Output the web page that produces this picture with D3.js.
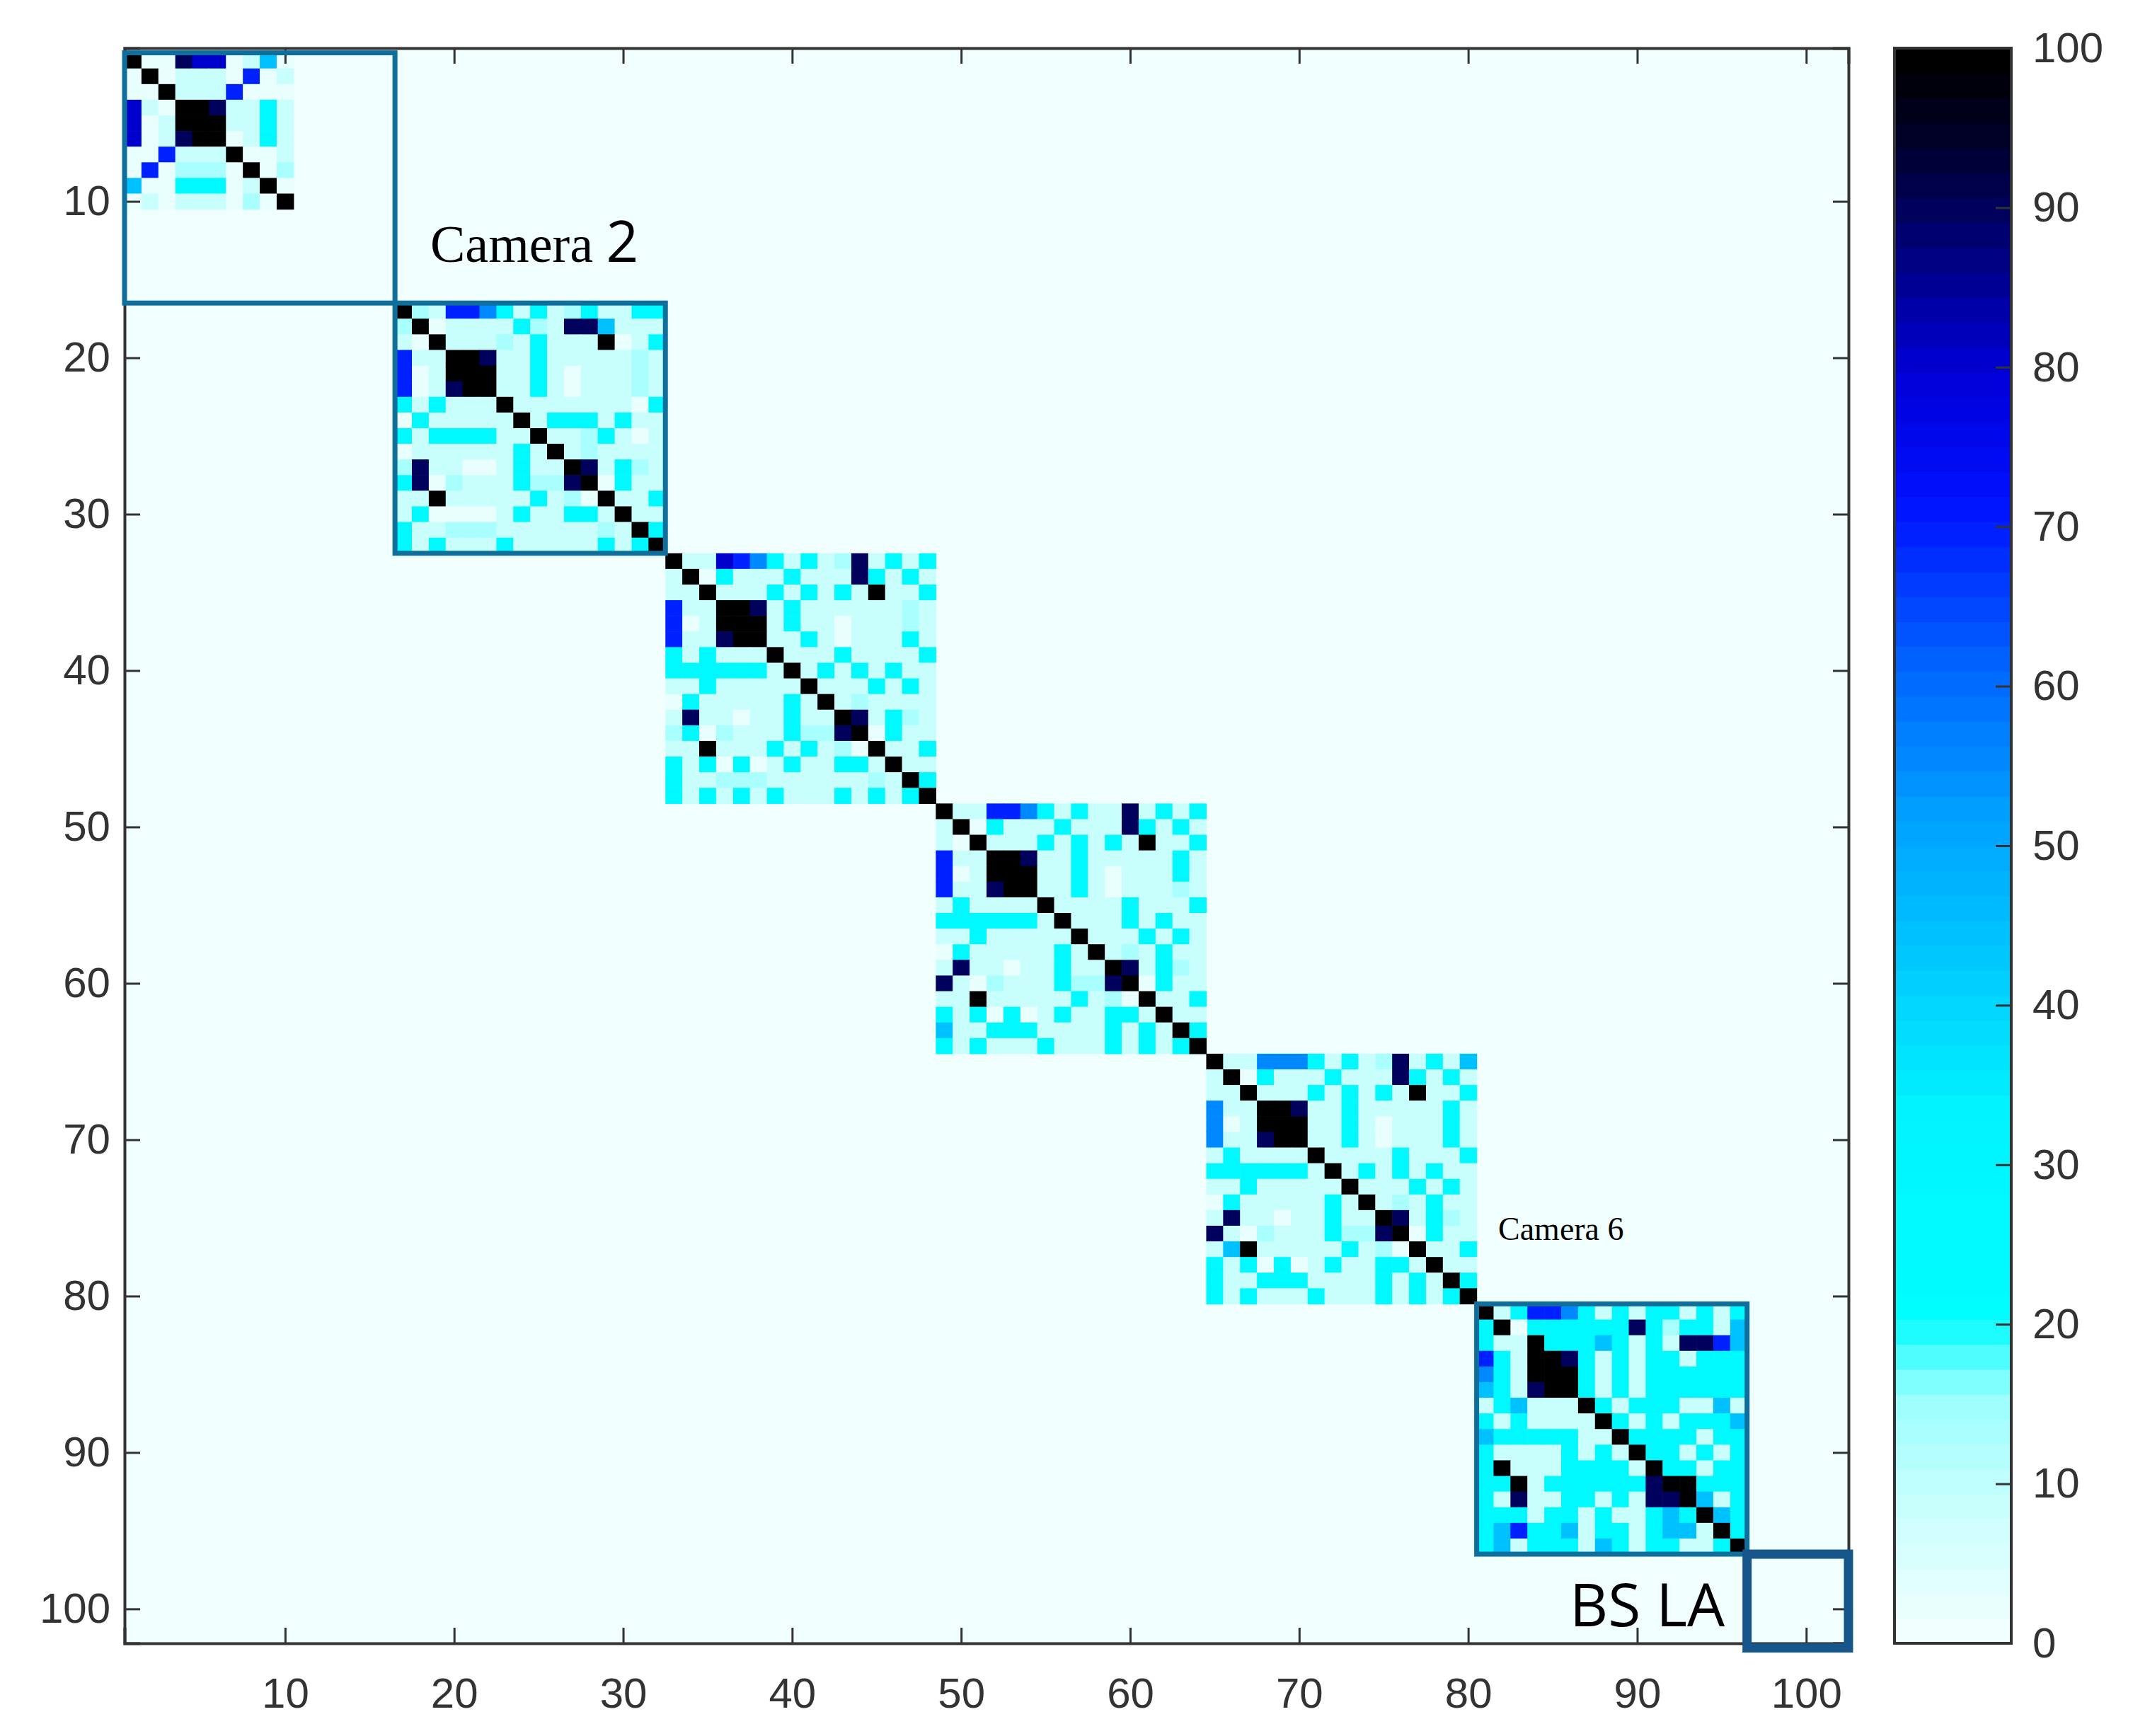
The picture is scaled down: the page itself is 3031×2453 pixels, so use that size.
<!DOCTYPE html>
<html>
<head>
<meta charset="utf-8">
<script src="https://cdn.jsdelivr.net/npm/d3@7"></script>
<style>
  body { margin: 0; background: #fff; }
  text { font-family: "Liberation Sans", Arial, sans-serif; }
</style>
</head>
<body>
<script>
// level digit -> similarity value (0..100)
const levelValues = [3, 8, 14, 25, 45, 55, 70, 80, 90, 100];
const backgroundValue = 0;
const matrixSize = 102;

// block start index (1-based) for each camera
const blockStarts = [1, 17, 33, 49, 65, 81];

const camera1 = [
  "9008770140",
  "0901110601",
  "0091116000",
  "7109981131",
  "7019991131",
  "7018990131",
  "0061119001",
  "0602220902",
  "4003330190",
  "0101110209"
];
const camera2 = [
  "9216653131231133",
  "2901111321884111",
  "1091112131119013",
  "6119981131111121",
  "6019991131011121",
  "6018991131011121",
  "3131119111111103",
  "0311111913331311",
  "3133331191123101",
  "0111111319121111",
  "2811001311981321",
  "3802111322890311",
  "1191111131209113",
  "1300001311331911",
  "3112221111112193",
  "3131113111113139"
];
const camera3 = [
  "9117653131281313",
  "1903111311183131",
  "1191113131319113",
  "6119981311111121",
  "6019991311011121",
  "6118991131011131",
  "3131119111311113",
  "3333331913131311",
  "1131111191113131",
  "0311111319121111",
  "1811011311981321",
  "2302111322890311",
  "1191113131209113",
  "3130301311331911",
  "3112221111112193",
  "3131313111313139"
];
const camera4 = [
  "9116653131181313",
  "1903111311183131",
  "1091113131319113",
  "6119981131111131",
  "6019991131011131",
  "6118991131011121",
  "1311119111131113",
  "3333331911131311",
  "1131111191113131",
  "0311111319121311",
  "1811011311981321",
  "8102111322890311",
  "1191111131209113",
  "3130301311331911",
  "4113331111313193",
  "3131113111313139"
];
const camera5 = [
  "9115553131281314",
  "1903111311183131",
  "1191113131319113",
  "5119981131111131",
  "5019991131011131",
  "5118991131011131",
  "1311119111131113",
  "3333331913131311",
  "1131111191113131",
  "0311111319121311",
  "1811011311981321",
  "8102111322890311",
  "1491111131209113",
  "3130301311331911",
  "3113331111313193",
  "3131113111313139"
];
const camera6 = [
  "9136653131331313",
  "3903333338323314",
  "3119333431318864",
  "6319983131331333",
  "5319993131333333",
  "4318993131333333",
  "1341119313331141",
  "3131111931313334",
  "4333331193333133",
  "3111131319331313",
  "3911133331933133",
  "3391333333899333",
  "3181133131889413",
  "3331331311343943",
  "3463341331344193",
  "3413331431331139"
];
const blocks = [camera1, camera2, camera3, camera4, camera5, camera6];

const xTicks = [10, 20, 30, 40, 50, 60, 70, 80, 90, 100];
const yTicks = [10, 20, 30, 40, 50, 60, 70, 80, 90, 100];
const cbTicks = [0, 10, 20, 30, 40, 50, 60, 70, 80, 90, 100];

// build the matrix
let cells = [];
let mat = [];
for (let r = 1; r <= matrixSize; r++) {
  mat[r] = [];
  for (let c = 1; c <= matrixSize; c++) mat[r][c] = backgroundValue;
}
blocks.forEach(function(b, k) {
  let s = blockStarts[k];
  b.forEach(function(row, i) {
    row.split("").forEach(function(ch, j) {
      mat[s + i][s + j] = levelValues[+ch];
    });
  });
});
for (let r = 1; r <= matrixSize; r++)
  for (let c = 1; c <= matrixSize; c++) cells.push({r: r, c: c, v: mat[r][c]});

// stepped colormap like matlab with 64 colours
const cmapStops = [
  [0, "#f0fffe"], [8, "#c8fffd"], [15, "#9afffd"], [20, "#00fdff"], [33, "#00f4ff"],
  [42, "#00ccff"], [52, "#00a0ff"], [62, "#0060ff"], [72, "#0010ff"], [80, "#0000d8"],
  [88, "#00007a"], [95, "#000028"], [100, "#000000"]
];
const smooth = d3.scaleLinear().domain(cmapStops.map(d => d[0])).range(cmapStops.map(d => d[1]));
const color = function(v) {
  let step = Math.min(63, Math.floor(v / 100 * 64));
  return smooth(step / 63 * 100);
};

const W = 3031, H = 2453;
const svg = d3.select("body").append("svg").attr("width", W).attr("height", H);

const pL = 176, pR = 2612, pT = 68, pB = 2322;
const x = d3.scaleLinear().domain([0.5, 102.5]).range([pL, pR]);
const y = d3.scaleLinear().domain([0.2, 102.2]).range([pT, pB]);

svg.append("rect").attr("x", pL).attr("y", pT).attr("width", pR - pL).attr("height", pB - pT)
  .attr("fill", color(backgroundValue));

svg.append("g").selectAll("rect").data(cells.filter(d => d.v !== backgroundValue)).join("rect")
  .attr("x", d => x(d.c - 0.5))
  .attr("y", d => y(d.r - 0.5))
  .attr("width", x(1) - x(0) + 0.6)
  .attr("height", y(1) - y(0) + 0.6)
  .attr("fill", d => color(d.v));

// axes (matlab style ticks inside)
const tickLen = 22;
const xb = svg.append("g").attr("transform", "translate(0," + pB + ")")
  .call(d3.axisBottom(x).tickValues(xTicks).tickSize(-tickLen).tickPadding(48));
const xt = svg.append("g").attr("transform", "translate(0," + pT + ")")
  .call(d3.axisTop(x).tickValues(xTicks).tickSize(-tickLen).tickFormat(""));
const yl = svg.append("g").attr("transform", "translate(" + pL + ",0)")
  .call(d3.axisLeft(y).tickValues(yTicks).tickSize(-tickLen).tickPadding(20));
const yr = svg.append("g").attr("transform", "translate(" + pR + ",0)")
  .call(d3.axisRight(y).tickValues(yTicks).tickSize(-tickLen).tickFormat(""));
[xb, xt, yl, yr].forEach(function(g) {
  g.select(".domain").attr("stroke", "#333").attr("stroke-width", 4);
  g.selectAll(".tick line").attr("stroke", "#333").attr("stroke-width", 3);
  g.selectAll(".tick text").attr("font-size", 60).attr("fill", "#333")
    .attr("font-family", "Liberation Sans, Arial, sans-serif");
});

// camera boxes
const boxes = [
  {a: 0.5, b: 16.5, w: 7, col: "#0f6e9c"},
  {a: 16.5, b: 32.5, w: 7, col: "#0f6e9c"},
  {a: 80.5, b: 96.5, w: 7, col: "#0f6e9c"},
  {a: 96.5, b: 102.5, w: 13, col: "#17568a"}
];
svg.append("g").selectAll("rect").data(boxes).join("rect")
  .attr("x", d => x(d.a)).attr("y", d => y(d.a))
  .attr("width", d => x(d.b) - x(d.a)).attr("height", d => y(d.b) - y(d.a))
  .attr("fill", "none").attr("stroke", d => d.col).attr("stroke-width", d => d.w);

svg.append("text").attr("x", 608).attr("y", 370).attr("font-size", 74)
  .style("font-family", "Liberation Serif, serif").text("Camera ")
  .append("tspan").style("font-family", "Open Sans, sans-serif").attr("font-size", 80).text("2");
svg.append("text").attr("x", 2117).attr("y", 1752).attr("font-size", 46)
  .style("font-family", "Liberation Serif, serif").text("Camera 6");
svg.append("text").attr("x", 2218).attr("y", 2298).attr("font-size", 84)
  .style("font-family", "Open Sans, sans-serif").text("BS LA");

// colorbar
const cbL = 2677, cbR = 2842;
const cy = d3.scaleLinear().domain([0, 100]).range([pB, pT]);
const steps = d3.range(64);
svg.append("g").selectAll("rect").data(steps).join("rect")
  .attr("x", cbL).attr("width", cbR - cbL)
  .attr("y", d => cy((d + 1) / 64 * 100))
  .attr("height", cy(0) - cy(100 / 64) + 0.8)
  .attr("fill", d => color((d + 0.5) / 64 * 100));
svg.append("rect").attr("x", cbL).attr("y", pT).attr("width", cbR - cbL).attr("height", pB - pT)
  .attr("fill", "none").attr("stroke", "#333").attr("stroke-width", 4);
const cb = svg.append("g").attr("transform", "translate(" + cbR + ",0)")
  .call(d3.axisRight(cy).tickValues(cbTicks).tickSize(-tickLen).tickPadding(30));
cb.select(".domain").remove();
cb.selectAll(".tick line").attr("stroke", "#333").attr("stroke-width", 3);
cb.selectAll(".tick text").attr("font-size", 60).attr("fill", "#333")
  .attr("font-family", "Liberation Sans, Arial, sans-serif");
</script>
</body>
</html>
